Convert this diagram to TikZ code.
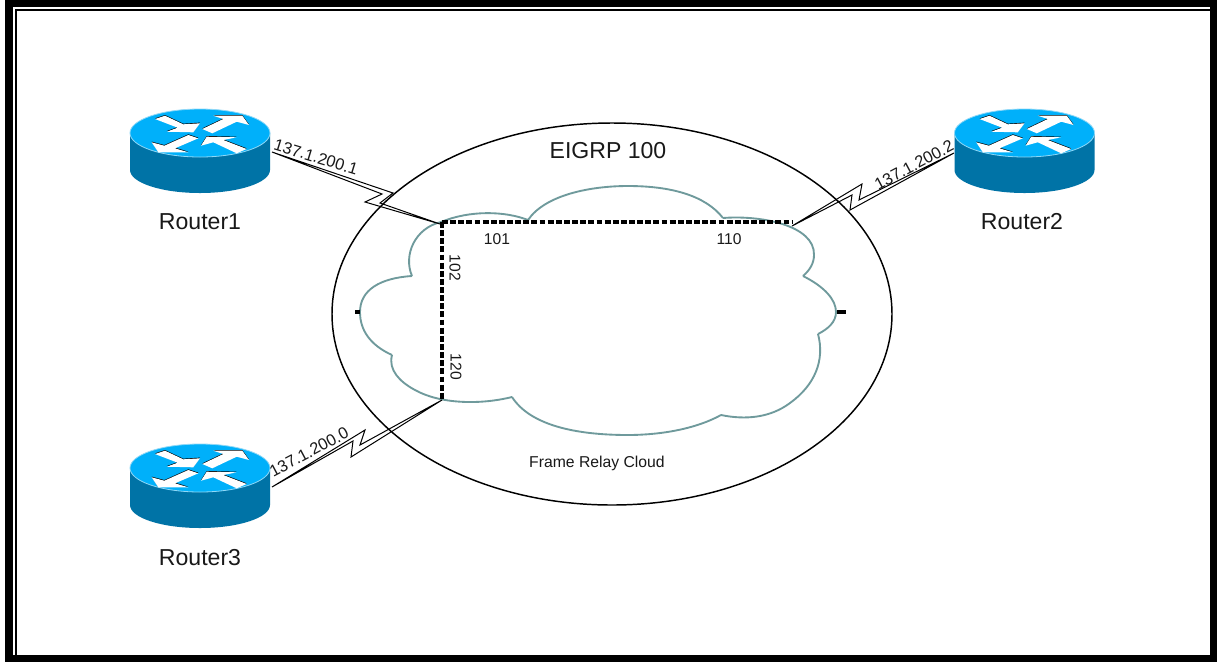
\documentclass[tikz,border=0pt]{standalone}
\usepackage{fontspec}
\setmainfont{Liberation Sans}
\usetikzlibrary{shapes.geometric}
\definecolor{rtop}{HTML}{00B0FA}
\definecolor{rside}{HTML}{0073A6}
\definecolor{redge}{HTML}{8FD8F7}
\definecolor{cloudline}{HTML}{6F9A9C}
\tikzset{
  big/.style={font=\fontsize{17.3}{20}\selectfont,inner sep=0pt,text=black!90},
  small/.style={font=\fontsize{12.3}{14}\selectfont,inner sep=0pt,text=black!90},
  tiny/.style={font=\fontsize{11.7}{14}\selectfont,inner sep=0pt,text=black!90},
  cloudstyle/.style={draw=cloudline,line width=1.4pt,line join=miter},
  serial/.style={draw=black,line width=0.75pt,line join=miter},
  pvc/.style={draw=black,line width=2.5pt,dash pattern=on 4.4pt off 1.7pt},
  frameline/.style={fill=black,draw=none},
  tick/.style={draw=black,line width=2.4pt},
  routerbox/.style={minimum width=105pt,minimum height=64pt,inner sep=0pt}
}
\newcommand{\routerdraw}[2]{
  \begin{scope}[shift={(#1,#2)}]
    \fill[rside] (-70,0) -- (-70,37) arc[start angle=180,end angle=360,x radius=52.5pt,y radius=17.25pt] -- (70,0) -- cycle;
    \fill[rtop] (0,0) ellipse[x radius=52.5pt,y radius=18pt];
    \draw[redge,line width=0.6pt] (0,0) ellipse[x radius=52.5pt,y radius=18pt];
    \foreach \pts in {
      {(-45,-14) -- (-35,-17.3) -- (-16.7,-8.7) -- (0,-9.7) -- (-6.7,-0.7) -- (-33.3,-1.3) -- (-22.3,-5.3) -- cycle},
      {(2.3,-4) -- (23.3,-14) -- (13.3,-17.3) -- (42.3,-17.3) -- (49,-8) -- (36.7,-11.3) -- (12.3,0.3) -- cycle},
      {(-48.3,9.3) -- (-35.7,12.7) -- (-11.7,2) -- (-1.7,5.3) -- (-25,15.3) -- (-11.7,19.3) -- (-41.7,19.3) -- cycle},
      {(1,12.7) -- (6.7,3.7) -- (36.7,4.3) -- (23.3,7) -- (46.7,16) -- (36.7,20.3) -- (13.3,9.3) -- cycle}}{
      \fill[black,yshift=0.5pt] \pts;
      \fill[white] \pts;
    }
  \end{scope}
}
\begin{document}
\begin{tikzpicture}[x=0.75pt,y=-0.75pt]
\useasboundingbox (0,0) rectangle (1218,662);
\fill[white] (0,0) rectangle (1218,662);
% frame
\fill[frameline] (5,0) rectangle (1217,7);
\fill[frameline] (5,0) rectangle (13,662);
\fill[frameline] (1210,0) rectangle (1217,662);
\fill[frameline] (5,655) rectangle (1217,662);
\fill[frameline] (15,9) rectangle (1210,11);
\fill[frameline] (15,9) rectangle (17,655);
% cloud
\draw[cloudstyle]
  (412,276) .. controls (403,255) and (415,228) .. (441,222)
  .. controls (470,210) and (505,211) .. (528,220)
  (528,220) .. controls (545,195) and (590,186) .. (628,186)
  .. controls (670,186) and (705,195) .. (723,218)
  (723,218) .. controls (760,215) and (815,225) .. (814,255)
  .. controls (814,263) and (810,270) .. (803,276)
  (803,276) .. controls (825,287) and (836,300) .. (836,312)
  .. controls (836,322) and (828,329) .. (818,334)
  (818,334) .. controls (825,360) and (815,385) .. (790,403)
  .. controls (770,418) and (745,420) .. (721,415)
  (721,415) .. controls (690,432) and (650,435) .. (628,435)
  .. controls (575,435) and (530,425) .. (512,397)
  (512,397) .. controls (480,405) and (440,404) .. (415,390)
  .. controls (400,382) and (388,370) .. (392,355)
  (392,355) .. controls (370,345) and (360,330) .. (360,312)
  .. controls (360,290) and (380,278) .. (412,276);
% EIGRP ellipse
\node[ellipse,draw=black,line width=1.1pt,minimum width=420pt,minimum height=286.5pt,inner sep=0pt] (eigrp) at (612,314) {};
% routers
\routerdraw{200}{133}
\routerdraw{1024.5}{133}
\routerdraw{200}{468}
\node[routerbox] (r1) at (200,151) {};
\node[routerbox] (r2) at (1024.5,151) {};
\node[routerbox] (r3) at (200,486) {};
% junctions
\coordinate (r1port) at (272,152);
\coordinate (r2port) at (954,153);
\coordinate (r3port) at (272,487);
\coordinate (pvchub) at (442,222);
\coordinate (pvcr2) at (792,222);
\coordinate (pvcr3) at (442,400);
\coordinate (r1endp) at (440,224);
\coordinate (r2endp) at (792,226);
% serial links
\draw[serial] (r1port) -- (393,193) -- (380,203) -- (r1endp) -- (365,202) -- (382,194) -- cycle;
\draw[serial] (r2port) -- (859,200) -- (862,184) -- (r2endp) -- (852,195) -- (850,210) -- cycle;
\draw[serial] (r3port) -- (365,430) -- (360,445) -- (pvcr3) -- (351,457) -- (353,441) -- cycle;
% PVCs
\draw[pvc] (pvchub) -- (pvcr2);
\draw[pvc] (pvchub) -- (pvcr3);
% ticks
\draw[tick] (355,312) -- (360,312);
\draw[tick] (837,312) -- (846,312);
% labels
\node[big] (l1) at (200,222) {Router1};
\node[big] (l2) at (1022,222) {Router2};
\node[big] (l3) at (200,558) {Router3};
\node[big] (eigrplabel) at (608,151) {EIGRP 100};
\node[small,font=\fontsize{11.8}{14}\selectfont] (frlabel) at (597,463) {Frame Relay Cloud};
\node[tiny] (d101) at (497,239) {101};
\node[tiny] (d110) at (729,239) {110};
\node[tiny,rotate=-90] (d102) at (455,268) {102};
\node[tiny,rotate=-90] (d120) at (456,367) {120};
\node[small,rotate=-17] (ip1) at (316,157) {137.1.200.1};
\node[small,rotate=28] (ip2) at (914,165) {137.1.200.2};
\node[small,rotate=28] (ip3) at (309,452) {137.1.200.0};
\end{tikzpicture}
\end{document}
